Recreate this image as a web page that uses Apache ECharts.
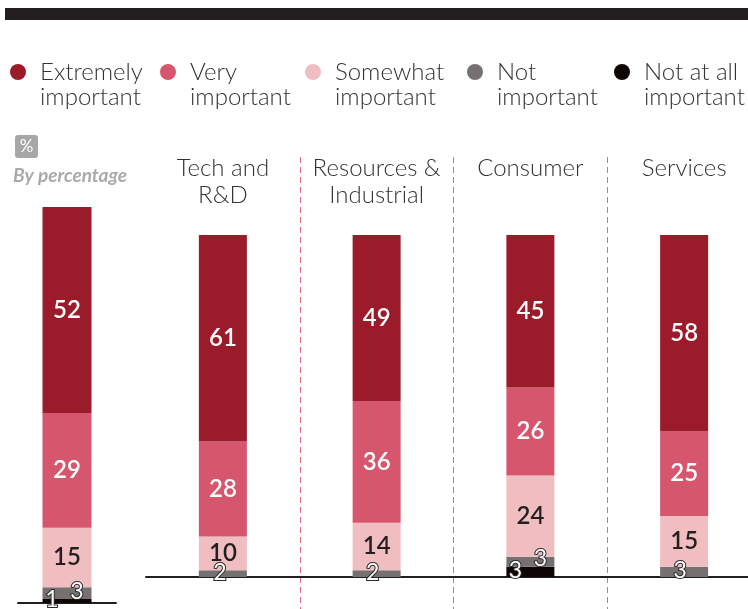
<!DOCTYPE html>
<html>
<head>
<meta charset="utf-8">
<script src="https://cdn.jsdelivr.net/npm/echarts@6/dist/echarts.min.js"></script>
<style>html,body{margin:0;padding:0;background:#fff}#c{width:748px;height:609px}</style>
</head>
<body>
<div id="c"></div>
<script>
// ---- data ----
var legendNames = ['Extremely important', 'Very important', 'Somewhat important', 'Not important', 'Not at all important'];
var overallCategory = [''];
var overallExtremely = [52];
var overallVery = [29];
var overallSomewhat = [15];
var overallNot = [3];
var overallNotAtAll = [1];

var sectors = ['Tech and\nR&D', 'Resources &\nIndustrial', 'Consumer', 'Services'];
var sectorExtremely = [61, 49, 45, 58];
var sectorVery = [28, 36, 26, 25];
var sectorSomewhat = [10, 14, 24, 15];
var sectorNot = [2, 2, 3, 3];
var sectorNotAtAll = [0, 0, 3, 0];

// ---- styles ----
var colors = {
  'Extremely important': '#9b1b2b',
  'Very important': '#d6566d',
  'Somewhat important': '#f0bec0',
  'Not important': '#767170',
  'Not at all important': '#0e0505'
};
var FONT = 'Lato';
var notOffsetsOverall = [[10, -2]];
var notOffsetsSector = [[-3, -1], [-4, -1], [10, -3], [-4, -1]];
var notAtAllOffset = [-15, -1];

function bigLabel(color) {
  return {
    show: true, position: 'inside', color: color, fontFamily: FONT,
    fontSize: 24, fontWeight: 600,
    formatter: function (p) { return p.value ? String(p.value) : ''; }
  };
}
function smallLabel(offset) {
  return {
    show: true, position: 'inside', color: '#fff', fontFamily: FONT,
    fontSize: 23, fontWeight: 'normal', textBorderColor: '#2a2a2a', textBorderWidth: 2,
    offset: offset,
    formatter: function (p) { return p.value ? String(p.value) : ''; }
  };
}
function itemsWithOffsets(values, offsets) {
  return values.map(function (v, i) {
    return { value: v, label: smallLabel(offsets[i]) };
  });
}
function makeSeries(grid, vals, barW) {
  var stack = 's' + grid;
  var xi = grid === 0 ? 0 : 1;
  return [
    { name: 'Not at all important', type: 'bar', stack: stack, xAxisIndex: xi, yAxisIndex: grid,
      barWidth: barW, data: vals.notAtAll, itemStyle: { color: colors['Not at all important'] },
      label: smallLabel(notAtAllOffset) },
    { name: 'Not important', type: 'bar', stack: stack, xAxisIndex: xi, yAxisIndex: grid,
      barWidth: barW, data: itemsWithOffsets(vals.not, vals.notOffsets), itemStyle: { color: colors['Not important'] } },
    { name: 'Somewhat important', type: 'bar', stack: stack, xAxisIndex: xi, yAxisIndex: grid,
      barWidth: barW, data: vals.somewhat, itemStyle: { color: colors['Somewhat important'] },
      label: bigLabel('#231f20') },
    { name: 'Very important', type: 'bar', stack: stack, xAxisIndex: xi, yAxisIndex: grid,
      barWidth: barW, data: vals.very, itemStyle: { color: colors['Very important'] },
      label: bigLabel('#ffffff') },
    { name: 'Extremely important', type: 'bar', stack: stack, xAxisIndex: xi, yAxisIndex: grid,
      barWidth: barW, data: vals.extremely, itemStyle: { color: colors['Extremely important'] },
      label: bigLabel('#ffffff') }
  ];
}

var legendLefts = [5, 155, 300, 462, 609];
var legends = legendNames.map(function (n, i) {
  return {
    data: [n], left: legendLefts[i], top: 37, orient: 'horizontal',
    icon: 'circle', itemWidth: 34, itemHeight: 16, selectedMode: false,
    formatter: function (name) {
      var m = name.match(/^(.*) (important)$/);
      return '{e| }\n{t|' + m[1] + '}\n{t|' + m[2] + '}';
    },
    textStyle: { rich: {
      e: { fontSize: 10, lineHeight: 25 },
      t: { fontFamily: FONT, fontSize: 24, fontWeight: 300, color: '#333', lineHeight: 25 }
    } }
  };
});

var option = {
  animation: false,
  backgroundColor: '#fff',
  graphic: [{ type: 'rect', shape: { x: 5, y: 8, width: 743, height: 12 }, style: { fill: '#231f20' } }],
  title: [
    { text: '{b|%}', left: 15, top: 135, padding: 0,
      textStyle: { rich: { b: { backgroundColor: '#a7a7a7', color: '#fff', width: 23, height: 23, align: 'center',
        borderRadius: 3, fontFamily: FONT, fontSize: 17, fontWeight: 'normal', lineHeight: 23 } } } },
    { text: 'By percentage', left: 13, top: 166, padding: 0,
      textStyle: { color: '#aaa', fontFamily: FONT, fontSize: 19, fontStyle: 'italic', fontWeight: 'bold' } }
  ],
  legend: legends,
  grid: [
    { left: 18, width: 98, top: 207, bottom: 0, containLabel: false, outerBoundsMode: 'none' },
    { left: 146, width: 615, top: 157, bottom: 0, containLabel: false, outerBoundsMode: 'none' }
  ],
  xAxis: [
    { type: 'category', gridIndex: 0, data: overallCategory,
      axisLine: { show: true, onZero: true, lineStyle: { color: '#231f20', width: 2 } },
      axisTick: { show: false }, axisLabel: { show: false }, splitLine: { show: false } },
    { type: 'category', gridIndex: 1, data: sectors,
      axisLine: { show: true, onZero: true, lineStyle: { color: '#231f20', width: 2 } },
      axisTick: { show: false }, axisLabel: { show: false }, splitLine: { show: false } },
    { type: 'category', gridIndex: 1, data: sectors, position: 'top',
      axisLine: { show: false }, axisTick: { show: false },
      axisLabel: { show: true, inside: true, margin: -2, interval: 0, fontFamily: FONT, fontSize: 24, fontWeight: 300,
        color: '#333', lineHeight: 27, verticalAlign: 'top' },
      splitLine: { show: true, interval: 0, showMinLine: false, showMaxLine: false,
        lineStyle: { color: '#e06a80', type: [6, 4], width: 1 } } }
  ],
  yAxis: [
    { type: 'value', gridIndex: 0, min: -1.515, max: 100, show: false, splitLine: { show: false } },
    { type: 'value', gridIndex: 1, min: -9.45, max: 124.05, show: false, splitLine: { show: false } }
  ],
  series: [].concat(
    makeSeries(0, { notAtAll: overallNotAtAll, not: overallNot, notOffsets: notOffsetsOverall,
      somewhat: overallSomewhat, very: overallVery, extremely: overallExtremely }, 49),
    makeSeries(1, { notAtAll: sectorNotAtAll, not: sectorNot, notOffsets: notOffsetsSector,
      somewhat: sectorSomewhat, very: sectorVery, extremely: sectorExtremely }, 48)
  )
};
var chart = echarts.init(document.getElementById('c'), null, { renderer: 'canvas' });
chart.setOption(option);
</script>
</body>
</html>
